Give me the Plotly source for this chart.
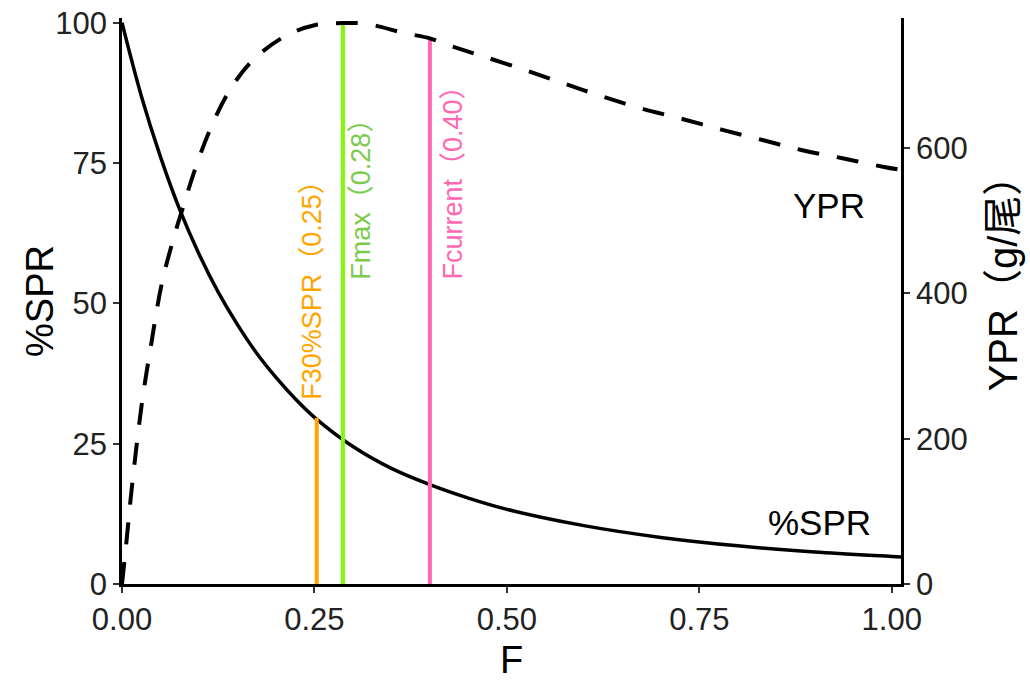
import plotly.graph_objects as go

# --- data ---------------------------------------------------------------
F_spr = [0, 0.025, 0.05, 0.075, 0.1, 0.125, 0.15, 0.175, 0.2, 0.225, 0.25,
         0.3, 0.35, 0.4, 0.45, 0.5, 0.6, 0.7, 0.8, 0.9, 1.0, 1.012]
spr = [100, 87.0, 76.1, 66.7, 58.8, 52.0, 46.2, 41.1, 36.8, 33.0, 29.7,
       24.5, 20.6, 17.7, 15.3, 13.3, 10.4, 8.3, 6.8, 5.7, 4.9, 4.8]

F_ypr = [0, 0.005, 0.013, 0.026, 0.037, 0.052, 0.069, 0.080, 0.094, 0.115,
         0.139, 0.169, 0.212, 0.25, 0.287, 0.317, 0.368, 0.40, 0.42, 0.464,
         0.522, 0.574, 0.624, 0.676, 0.728, 0.780, 0.832, 0.884, 0.936, 0.99, 1.012]
ypr = [0, 50, 135, 250, 324, 415, 483, 521, 568, 627,
       678, 720, 754, 769, 772, 771, 758, 751, 743, 728,
       708, 689, 671, 654, 640, 625, 611, 597, 586, 574, 570]

ref_F = [0.253, 0.287, 0.400]          # reference F values
ref_top = [29.6, 100.0, 97.2]          # heights (in %SPR units)
ref_colors = ["#FFA500", "#7CFC00", "#FF69B4"]
ref_labels = ["F30%SPR（0.25）", "Fmax（0.28）", "Fcurrent（0.40）"]
ref_text_colors = ["#FFA500", "#7DCB4E", "#FF69B4"]
label_F = [0.247, 0.310, 0.430]
label_y = [32.4, 53.8, 53.8]

curve_labels = ["YPR", "%SPR"]
curve_label_F = [0.919, 0.906]
curve_label_y = [67.5, 10.9]

x_ticks = [0, 0.25, 0.5, 0.75, 1.0]
x_ticktext = ["0.00", "0.25", "0.50", "0.75", "1.00"]
y_ticks = [0, 25, 50, 75, 100]
y2_ticks = [0, 200, 400, 600]

x_title, y_title, y2_title = "F", "%SPR", "YPR（g/尾）"

FONT = "Liberation Sans, Arial, Noto Sans CJK SC, sans-serif"

fig = go.Figure()

fig.add_trace(go.Scatter(x=F_spr, y=spr, mode="lines", line=dict(color="black", width=3.5, shape="spline"),
                         showlegend=False, hoverinfo="skip"))
fig.add_trace(go.Scatter(x=F_ypr, y=ypr, mode="lines", yaxis="y2",
                         line=dict(color="black", width=4, dash="22px,18px", shape="spline"),
                         showlegend=False, hoverinfo="skip"))

for f, top, c in zip(ref_F, ref_top, ref_colors):
    fig.add_trace(go.Scatter(x=[f, f], y=[0, top], mode="lines", line=dict(color=c, width=4),
                             showlegend=False, hoverinfo="skip"))

for txt, f, y, c in zip(ref_labels, label_F, label_y, ref_text_colors):
    fig.add_annotation(x=f, y=y, xref="x", yref="y", text=txt, showarrow=False, textangle=-90,
                       xanchor="center", yanchor="bottom", font=dict(family=FONT, size=27, color=c))

for txt, f, y in zip(curve_labels, curve_label_F, curve_label_y):
    fig.add_annotation(x=f, y=y, xref="x", yref="y", text=txt, showarrow=False,
                       xanchor="center", yanchor="middle", font=dict(family=FONT, size=35, color="black"))

# axis titles
title_font = dict(family=FONT, size=38, color="black")
fig.add_annotation(x=0.5, y=-0.134, xref="paper", yref="paper", text=x_title, showarrow=False,
                   xanchor="center", yanchor="middle", font=title_font)
fig.add_annotation(x=-0.1053, y=0.5, xref="paper", yref="paper", text=y_title, showarrow=False,
                   textangle=-90, xanchor="center", yanchor="middle", font=title_font)
fig.add_annotation(x=1.131, y=0.549, xref="paper", yref="paper", text=y2_title, showarrow=False,
                   textangle=-90, xanchor="center", yanchor="middle",
                   font=dict(family=FONT, size=40, color="black"))

axis_common = dict(showgrid=False, zeroline=False, showline=True, linecolor="black", linewidth=2.5,
                   ticks="outside", ticklen=6, tickwidth=2, tickcolor="#333333", automargin=False,
                   ticklabeloverflow="allow",
                   tickfont=dict(family=FONT, size=31, color="#222222"))

fig.update_layout(
    width=1030, height=686,
    paper_bgcolor="white", plot_bgcolor="white",
    margin=dict(l=122, r=129, t=18, b=102),
    xaxis=dict(range=[0, 1.012], tickvals=x_ticks, ticktext=x_ticktext, **axis_common),
    yaxis=dict(range=[0, 100.84], tickvals=y_ticks, **axis_common),
    yaxis2=dict(range=[0, 779], tickvals=y2_ticks, overlaying="y", side="right", **axis_common),
)

# remove the browser's default 8px body margin so the figure fills the window
fig.write_html("out.html", config={"displayModeBar": False},
               post_script="document.body.style.margin='0';")
